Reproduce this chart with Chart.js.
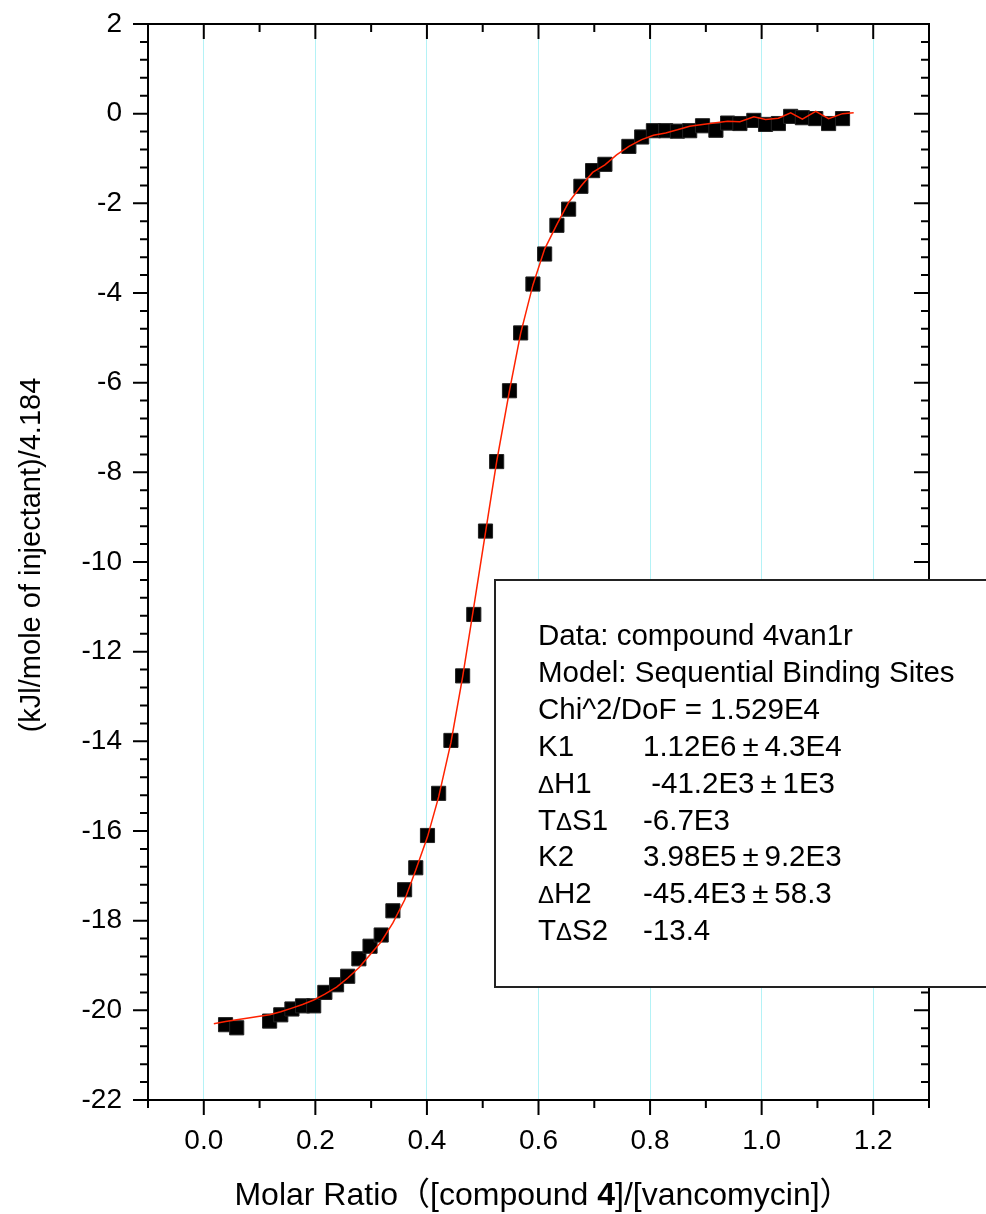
<!DOCTYPE html>
<html>
<head>
<meta charset="utf-8">
<script src="https://cdn.jsdelivr.net/npm/chart.js@4.4.1/dist/chart.umd.min.js"></script>
<style>
  html, body { margin: 0; padding: 0; background: #fff; }
  canvas { display: block; }
</style>
</head>
<body>
<canvas id="itc" width="986" height="1214"></canvas>
<script>
// ITC titration: integrated heats vs molar ratio, with the fitted curve

const xTicks = [0.0, 0.2, 0.4, 0.6, 0.8, 1.0, 1.2];
const yTicks = [2, 0, -2, -4, -6, -8, -10, -12, -14, -16, -18, -20, -22];

const ratioX = [0.039, 0.059, 0.118, 0.138, 0.158, 0.177, 0.197, 0.217, 0.238, 0.258,
  0.278, 0.298, 0.318, 0.339, 0.360, 0.380, 0.401, 0.421, 0.443, 0.464,
  0.484, 0.505, 0.525, 0.548, 0.568, 0.590, 0.611, 0.633, 0.654, 0.676,
  0.697, 0.719, 0.762, 0.785, 0.806, 0.828, 0.849, 0.871, 0.894, 0.918,
  0.939, 0.961, 0.986, 1.007, 1.030, 1.052, 1.073, 1.097, 1.120, 1.145];
const heatY = [-20.32, -20.39, -20.24, -20.10, -19.97, -19.90, -19.90, -19.60, -19.43, -19.24,
  -18.85, -18.57, -18.32, -17.78, -17.31, -16.82, -16.10, -15.16, -13.98, -12.54,
  -11.17, -9.31, -7.76, -6.18, -4.89, -3.80, -3.13, -2.49, -2.13, -1.62,
  -1.27, -1.13, -0.73, -0.52, -0.38, -0.38, -0.39, -0.38, -0.27, -0.37,
  -0.21, -0.22, -0.15, -0.24, -0.22, -0.06, -0.09, -0.11, -0.22, -0.11];

const fitX = [0.018, 0.039, 0.059, 0.080, 0.100, 0.118, 0.138, 0.158, 0.177, 0.197,
  0.217, 0.238, 0.258, 0.278, 0.298, 0.318, 0.339, 0.360, 0.380, 0.401,
  0.421, 0.443, 0.464, 0.484, 0.505, 0.525, 0.548, 0.568, 0.590, 0.611,
  0.633, 0.654, 0.676, 0.697, 0.719, 0.740, 0.762, 0.785, 0.806, 0.828,
  0.849, 0.871, 0.894, 0.918, 0.939, 0.961, 0.986, 1.007, 1.030, 1.052,
  1.073, 1.097, 1.120, 1.145, 1.165];
const fitY = [-20.30, -20.25, -20.21, -20.17, -20.13, -20.10, -20.03, -19.95, -19.87, -19.77,
  -19.64, -19.48, -19.28, -19.05, -18.76, -18.47, -18.05, -17.54, -16.87, -16.13,
  -15.24, -14.03, -12.56, -11.00, -9.34, -7.76, -6.18, -4.90, -3.82, -3.02,
  -2.47, -1.98, -1.62, -1.31, -1.14, -0.92, -0.73, -0.58, -0.48, -0.43,
  -0.36, -0.28, -0.24, -0.20, -0.17, -0.18, -0.07, -0.13, -0.10, 0.02,
  -0.12, 0.05, -0.11, 0.00, 0.02];

const fitLines = [
  ["Data: compound 4van1r", ""],
  ["Model: Sequential Binding Sites", ""],
  ["Chi^2/DoF = 1.529E4", ""],
  ["K1", "1.12E6\u2009\u00B1\u20094.3E4"],
  ["\u0394H1", " -41.2E3\u2009\u00B1\u20091E3"],
  ["T\u0394S1", "-6.7E3"],
  ["K2", "3.98E5\u2009\u00B1\u20099.2E3"],
  ["\u0394H2", "-45.4E3\u2009\u00B1\u200958.3"],
  ["T\u0394S2", "-13.4"]
];

const SANS = "'Liberation Sans', Arial, sans-serif";
const CJK = "'Noto Sans CJK SC', sans-serif";

function drawFrameAndTicks(chart) {
  const ctx = chart.ctx;
  const { left, right, top, bottom } = chart.chartArea;
  const xs = chart.scales.x, ys = chart.scales.y;
  ctx.save();
  ctx.strokeStyle = "#000";
  ctx.lineWidth = 2;
  ctx.lineCap = "butt";
  ctx.beginPath();
  // x minor every 0.1, major every 0.2
  for (let k = -1; k <= 13; k++) {
    const px = xs.getPixelForValue(k / 10);
    const len = (k % 2 === 0) ? 15 : 8;
    ctx.moveTo(px, bottom); ctx.lineTo(px, bottom + len);
    ctx.moveTo(px, top); ctx.lineTo(px, top + len);
  }
  // y minor every 0.4, major every 2
  for (let k = -55; k <= 5; k++) {
    const py = ys.getPixelForValue(k * 0.4);
    const len = (k % 5 === 0) ? 15 : 8;
    ctx.moveTo(left, py); ctx.lineTo(left - len, py);
    ctx.moveTo(right, py); ctx.lineTo(right - len, py);
  }
  ctx.stroke();
  ctx.strokeRect(left, top, right - left, bottom - top);
  ctx.restore();
}

function drawTitles(chart) {
  const ctx = chart.ctx;
  ctx.save();
  ctx.fillStyle = "#000";
  // y title
  ctx.translate(40, 555);
  ctx.rotate(-Math.PI / 2);
  ctx.font = "29px " + SANS;
  ctx.textAlign = "center";
  ctx.textBaseline = "alphabetic";
  ctx.fillText("(kJl/mole of injectant)/4.184", 0, 0);
  ctx.restore();

  // x title with bold "4" and full-width parentheses
  const parts = [
    ["Molar Ratio", "32px " + SANS],
    ["\uFF08", "32px " + CJK],
    ["[compound ", "32px " + SANS],
    ["4", "bold 32px " + SANS],
    ["]/[vancomycin]", "32px " + SANS],
    ["\uFF09", "32px " + CJK]
  ];
  ctx.save();
  ctx.fillStyle = "#000";
  ctx.textBaseline = "alphabetic";
  let total = 0;
  parts.forEach(p => { ctx.font = p[1]; total += ctx.measureText(p[0]).width; });
  let x = 543 - total / 2;
  parts.forEach(p => {
    ctx.font = p[1];
    ctx.fillText(p[0], x, 1205);
    x += ctx.measureText(p[0]).width;
  });
  ctx.restore();
}

function drawLabel(ctx, text, x, y) {
  // the delta sign is set smaller than the letters around it
  let cx = x;
  for (const ch of text) {
    ctx.font = (ch === "\u0394" ? "24px " : "29.5px ") + SANS;
    ctx.fillText(ch, cx, y);
    cx += ctx.measureText(ch).width;
  }
}

function drawFitBox(chart) {
  const ctx = chart.ctx;
  ctx.save();
  ctx.fillStyle = "#fff";
  ctx.fillRect(495, 580, 500, 407);
  ctx.strokeStyle = "#222";
  ctx.lineWidth = 2;
  ctx.strokeRect(495, 580, 500, 407);
  ctx.fillStyle = "#000";
  ctx.textBaseline = "alphabetic";
  ctx.textAlign = "left";
  fitLines.forEach((row, i) => {
    const y = 645 + i * 36.9;
    drawLabel(ctx, row[0], 538, y);
    if (row[1]) {
      ctx.font = "29.5px " + SANS;
      ctx.fillText(row[1], 643, y);
    }
  });
  ctx.restore();
}

const decorations = {
  id: "decorations",
  afterDraw(chart) {
    drawFrameAndTicks(chart);
    drawTitles(chart);
    drawFitBox(chart);
  }
};

new Chart(document.getElementById("itc"), {
  type: "scatter",
  data: {
    datasets: [
      {
        label: "fit",
        data: fitX.map((x, i) => ({ x, y: fitY[i] })),
        showLine: true,
        borderColor: "#ff2200",
        borderWidth: 1.5,
        pointRadius: 0,
        tension: 0,
        order: 0
      },
      {
        label: "data",
        data: ratioX.map((x, i) => ({ x, y: heatY[i] })),
        pointStyle: "rect",
        pointRadius: 10,
        backgroundColor: "#000",
        borderColor: "#222",
        borderWidth: 1,
        order: 1
      }
    ]
  },
  options: {
    responsive: false,
    animation: false,
    devicePixelRatio: 1,
    layout: { padding: { top: 24, right: 57, left: 0, bottom: 0 } },
    plugins: { legend: { display: false }, tooltip: { enabled: false } },
    scales: {
      x: {
        type: "linear",
        min: -0.1,
        max: 1.3,
        afterBuildTicks: s => { s.ticks = xTicks.map(v => ({ value: v })); },
        afterFit: s => { s.height = 114; s.paddingLeft = 0; s.paddingRight = 0; },
        ticks: {
          callback: v => Number(v).toFixed(1),
          font: { family: SANS, size: 28 },
          color: "#000",
          padding: 24,
          maxRotation: 0,
          autoSkip: false
        },
        grid: { color: "#b4f2f6", lineWidth: 1, drawTicks: false },
        border: { display: false }
      },
      y: {
        type: "linear",
        min: -22,
        max: 2,
        afterBuildTicks: s => { s.ticks = yTicks.map(v => ({ value: v })); },
        afterFit: s => { s.width = 148; s.paddingTop = 0; s.paddingBottom = 0; },
        ticks: {
          callback: v => String(v),
          font: { family: SANS, size: 28 },
          color: "#000",
          padding: 26,
          autoSkip: false
        },
        grid: { display: false, drawTicks: false },
        border: { display: false }
      }
    }
  },
  plugins: [decorations]
});
</script>
</body>
</html>
